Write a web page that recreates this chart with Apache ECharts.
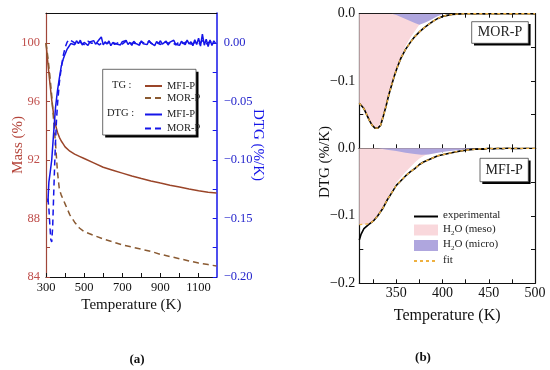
<!DOCTYPE html>
<html><head><meta charset="utf-8">
<script src="https://cdn.jsdelivr.net/npm/echarts@6/dist/echarts.min.js"></script>
<style>html,body{margin:0;padding:0;background:#fff}#c{width:550px;height:370px}</style>
</head><body><div id="c"></div>
<script>
const FONT = 'Liberation Serif';

// ---------- Panel (a): TG (mass %) ----------
const tgTemp = [300,310,320,330,340,350,360,370,380,390,400,425,450,475,500,550,600,650,700,750,800,850,900,950,1000,1050,1100,1150,1194];
const tgMFI  = [100,98.6,97.3,96.1,95.1,94.4,93.9,93.55,93.3,93.1,92.9,92.6,92.4,92.25,92.1,91.8,91.5,91.3,91.1,90.9,90.73,90.57,90.42,90.28,90.15,90.02,89.9,89.8,89.74];
const tgMOR  = [100,99.0,97.8,96.4,94.7,93.1,91.2,90.0,89.6,89.3,89.0,88.25,87.75,87.35,87.1,86.85,86.6,86.4,86.2,86.05,85.9,85.75,85.55,85.4,85.25,85.1,84.95,84.85,84.75];

// ---------- Panel (a): DTG (%/K) ----------
const dtgTempMFI = [310,315,320,330,340,350,360,370,380,390,400,410,420,430,
  440,450,460,470,480,490,500,510,520,530,540,550,560,570,580,590,600,610,620,630,640,650,660,670,680,690,
  700,710,720,730,740,750,760,770,780,790,800,810,820,830,840,850,860,870,880,890,900,910,920,930,940,950,
  960,970,980,990,1000,1010,1020,1030,1040,1050,1060,1070,1080,1090,1100,1110,1120,1130,1140,1150,1160,1170,1180,1190];
const dtgMFI = [-0.136,-0.119,-0.113,-0.100,-0.077,-0.055,-0.041,-0.030,-0.020,-0.014,-0.0095,-0.0055,-0.003,-0.0005,
  0.0008,-0.0015,0.0019,-0.0006,0.0024,-0.0018,0.0005,0.0012,-0.0021,0.0009,-0.0004,0.0020,-0.0011,0.0003,0.0032,0.0052,-0.0016,0.0010,-0.0008,0.0017,-0.0023,0.0004,0.0014,-0.0009,0.0002,-0.0017,
  0.0011,-0.0005,0.0022,-0.0013,0.0006,-0.0020,0.0015,-0.0003,0.0009,-0.0019,0.0018,-0.0007,0.0004,-0.0014,0.0021,-0.0002,0.0008,-0.0022,0.0013,-0.0006,0.0019,-0.0010,0.0001,0.0016,-0.0017,0.0007,
  -0.0004,0.0023,-0.0012,0.0005,-0.0020,0.0014,0.0002,-0.0015,0.0025,-0.0008,0.0011,-0.0024,0.0028,-0.0013,0.0041,-0.0026,0.0075,-0.0019,0.0033,-0.0030,0.0026,-0.0022,0.0018,-0.0005];
const dtgTempMOR = [310,315,320,325,330,335,340,345,350,355,360,370,380,390,400,410,420,430,
  440,460,480,500,520,540,560,580,600,620,640,660,680,700,720,740,760,780,800,820,840,860,880,900,
  920,940,960,980,1000,1020,1040,1060,1080,1100,1120,1140,1160,1180];
const dtgMOR = [-0.133,-0.141,-0.155,-0.168,-0.170,-0.157,-0.131,-0.106,-0.084,-0.066,-0.053,-0.034,-0.021,-0.011,-0.004,0.0005,0.003,0.0015,
  0.0012,-0.0010,0.0006,-0.0014,0.0015,-0.0003,0.0009,-0.0016,0.0011,-0.0005,0.0013,-0.0012,0.0004,-0.0009,0.0016,-0.0007,0.0002,-0.0015,0.0010,-0.0004,0.0014,-0.0011,0.0005,-0.0013,
  0.0012,-0.0002,0.0008,-0.0016,0.0011,-0.0006,0.0015,-0.0010,0.0003,-0.0014,0.0020,-0.0008,0.0012,-0.0009];

// ---------- Panel (b) top: MOR-P ----------
const morT   = [310,312,315,318,321,324,327,330,333,336,339,342,345,348,351,355,360,365,370,375,380,385,390,395,400,405,410,415,420,425,430,435,440,445,450,455,460,465,470,475,480,485,490,495,500];
const morExp = [-0.133,-0.135,-0.141,-0.150,-0.159,-0.166,-0.170,-0.170,-0.166,-0.152,-0.137,-0.120,-0.106,-0.092,-0.080,-0.066,-0.053,-0.043,-0.034,-0.027,-0.021,-0.016,-0.011,-0.007,-0.004,-0.0025,-0.0012,-0.0006,-0.0002,0.0003,0.0,-0.0004,0.0002,-0.0003,0.0004,0.0,-0.0003,0.0002,0.0001,-0.0002,0.0003,-0.0001,0.0002,0.0,-0.0002];
const morFit = [-0.133,-0.135,-0.141,-0.150,-0.159,-0.166,-0.170,-0.170,-0.166,-0.152,-0.137,-0.120,-0.106,-0.092,-0.080,-0.066,-0.053,-0.043,-0.034,-0.027,-0.021,-0.016,-0.011,-0.007,-0.004,-0.0025,-0.0013,-0.0007,-0.0003,-0.0001,0,0,0,0,0,0,0,0,0,0,0,0,0,0,0];
const morMesoT = [310,315,320,325,330,335,340,345,350,355,360,365,370,375,380,385,390,395,400];
const morMeso  = [-0.133,-0.141,-0.156,-0.168,-0.170,-0.157,-0.131,-0.106,-0.083,-0.064,-0.048,-0.036,-0.026,-0.016,-0.010,-0.006,-0.003,-0.001,0];
const morMicroT = [345,350,355,360,365,370,375,380,385,390,395,400,403];
const morMicro  = [0,-0.002,-0.005,-0.008,-0.011,-0.014,-0.0165,-0.014,-0.011,-0.007,-0.0035,-0.001,0];

// ---------- Panel (b) bottom: MFI-P ----------
const mfiT   = [310,312,315,320,325,330,335,340,345,350,355,360,365,370,375,380,385,390,395,400,405,410,415,420,425,430,435,440,445,450,455,460,465,470,475,480,485,490,495,500];
const mfiExp = [-0.136,-0.127,-0.119,-0.113,-0.108,-0.100,-0.090,-0.077,-0.066,-0.055,-0.048,-0.041,-0.035,-0.030,-0.024,-0.020,-0.017,-0.014,-0.011,-0.0095,-0.008,-0.0065,-0.005,-0.0038,-0.003,-0.002,-0.0015,-0.001,-0.0012,0.0005,-0.0008,0.0003,-0.0005,0.0006,-0.0004,0.0002,-0.0003,0.0004,0.0001,0.0];
const mfiFit = [-0.113,-0.113,-0.1125,-0.112,-0.108,-0.100,-0.090,-0.077,-0.066,-0.055,-0.048,-0.041,-0.035,-0.030,-0.024,-0.020,-0.017,-0.014,-0.011,-0.0095,-0.008,-0.0065,-0.005,-0.0038,-0.003,-0.002,-0.0015,-0.001,-0.0006,-0.0003,-0.0001,0,0,0,0,0,0,0,0,0];
const mfiMesoT = [310,315,320,325,330,335,340,345,350,355,360,365,370,375,380,385,390,395,400,410,420,430,440];
const mfiMeso  = [-0.113,-0.1125,-0.112,-0.108,-0.100,-0.089,-0.075,-0.062,-0.051,-0.043,-0.035,-0.028,-0.021,-0.015,-0.011,-0.008,-0.006,-0.0045,-0.0035,-0.002,-0.001,-0.0003,0];
const mfiMicroT = [330,340,350,360,370,377,385,395,405,415,425,435,445];
const mfiMicro  = [0,-0.002,-0.004,-0.0065,-0.0085,-0.0095,-0.009,-0.0065,-0.0045,-0.003,-0.0015,-0.0005,0];

// ---------- tick labels ----------
const aXLabels = [300,500,700,900,1100];
const aXTicks = [300,400,500,600,700,800,900,1000,1100];
const aMassLabels = [84,88,92,96,100];
const aMassTicks = [84,86,88,90,92,94,96,98,100];
const aDtgLabels = [-0.2,-0.15,-0.1,-0.05,0];
const aDtgTicks = [-0.2,-0.175,-0.15,-0.125,-0.1,-0.075,-0.05,-0.025,0];
const bXLabels = [350,400,450,500];
const bXTicks = [325,350,375,400,425,450,475];
const bTopYLabels = [-0.1,0];
const bBotYLabels = [-0.2,-0.1,0];
const bYTicks = [-0.15,-0.1,-0.05];

const BROWN = '#9a4529', BROWN_D = '#8a5a32', BLUE = '#1515e8', MASSC = '#c0504d';
const PINK = '#f9d8dc', PURPLE = '#afa6de', FIT = '#eeb040', INK = '#111';

const pairs = (xs, ys) => xs.map((x, i) => [x, ys[i]]);
const signed = d => v => (v < -1e-9 ? '\u2212' : '') + Math.abs(v).toFixed(d);
const plain = v => String(v);
const lineItem = name => ({ name, itemStyle: { opacity: 0, color: 'rgba(0,0,0,0)', borderWidth: 0 } });

function xAx(grid, min, max, pos, opts) {
  return Object.assign({
    gridIndex: grid, type: 'value', min, max, position: pos,
    axisLine: { show: true, onZero: false, lineStyle: { color: INK, width: 1.2 } },
    axisTick: { show: false },
    axisLabel: { show: false },
    splitLine: { show: false }
  }, opts || {});
}
function yAx(grid, min, max, pos, opts) {
  return Object.assign({
    gridIndex: grid, type: 'value', min, max, position: pos,
    axisLine: { show: true, onZero: false, lineStyle: { color: INK, width: 1.2 } },
    axisTick: { show: false },
    axisLabel: { show: false },
    splitLine: { show: false }
  }, opts || {});
}
const tk = (vals, color) => ({ show: true, inside: true, length: 4, customValues: vals, lineStyle: { color: color || INK, width: 1 } });

const DTG_MAX = 0.02563;

const option = {
  animation: false,
  backgroundColor: '#fff',
  grid: [
    { left: 46, top: 13, width: 170.7, height: 264 },
    { left: 359.3, top: 13.7, width: 175.7, height: 134.6 },
    { left: 359.3, top: 148.3, width: 175.7, height: 135 }
  ],
  xAxis: [
    xAx(0, 300, 1195, 'bottom', {
      axisTick: tk(aXTicks),
      axisLabel: { show: true, customValues: aXLabels, formatter: plain, margin: 4, fontFamily: FONT, fontSize: 12.5, color: INK },
      name: 'Temperature (K)', nameLocation: 'middle', nameGap: 21, nameMoveOverlap: false,
      nameTextStyle: { fontFamily: FONT, fontSize: 15, color: INK }
    }),
    xAx(0, 300, 1195, 'top'),
    xAx(1, 310, 500, 'bottom', { axisTick: tk(bXTicks) }),
    xAx(1, 310, 500, 'top', { axisTick: tk(bXTicks) }),
    xAx(2, 310, 500, 'bottom', {
      axisTick: tk(bXTicks),
      axisLabel: { show: true, customValues: bXLabels, formatter: plain, margin: 3, fontFamily: FONT, fontSize: 14, color: INK },
      name: 'Temperature (K)', nameLocation: 'middle', nameGap: 24, nameMoveOverlap: false,
      nameTextStyle: { fontFamily: FONT, fontSize: 16, color: INK }
    }),
    xAx(2, 310, 500, 'top', { axisTick: tk(bXTicks) })
  ],
  yAxis: [
    yAx(0, 84, 102.05, 'left', {
      axisLine: { show: true, onZero: false, lineStyle: { color: '#a0463a', width: 1.2 } },
      axisTick: tk(aMassTicks, '#a0463a'),
      axisLabel: { show: true, customValues: aMassLabels, formatter: plain, margin: 6, fontFamily: FONT, fontSize: 12.5, color: MASSC },
      name: 'Mass (%)', nameLocation: 'middle', nameGap: 20.5, nameMoveOverlap: false,
      nameTextStyle: { fontFamily: FONT, fontSize: 15, color: '#b4443a' }
    }),
    yAx(0, -0.2, DTG_MAX, 'right', {
      axisLine: { show: true, onZero: false, lineStyle: { color: BLUE, width: 1.5 } },
      axisTick: tk(aDtgTicks, BLUE),
      axisLabel: { show: true, customValues: aDtgLabels, margin: 7, fontFamily: FONT, fontSize: 12.5, color: '#2525cc', formatter: signed(2) },
      name: 'DTG (%/K)', nameLocation: 'middle', nameGap: 34, nameRotate: -90, nameMoveOverlap: false,
      nameTextStyle: { fontFamily: FONT, fontSize: 15, color: BLUE }
    }),
    yAx(1, -0.2, 0, 'left', {
      axisTick: tk(bYTicks),
      axisLabel: { show: true, customValues: bTopYLabels, margin: 4, fontFamily: FONT, fontSize: 14, color: INK, formatter: signed(1) }
    }),
    yAx(1, -0.2, 0, 'right', { axisTick: tk(bYTicks) }),
    yAx(2, -0.2, 0, 'left', {
      axisTick: tk(bYTicks),
      axisLabel: { show: true, customValues: bBotYLabels, margin: 4, fontFamily: FONT, fontSize: 14, color: INK, formatter: signed(1) }
    }),
    yAx(2, -0.2, 0, 'right', { axisTick: tk(bYTicks) })
  ],
  legend: [
    {
      data: [lineItem('TG MFI-P'), lineItem('TG MOR-P')], left: 139, top: 75.5, orient: 'vertical',
      itemWidth: 17, itemHeight: 10, itemGap: 1, selectedMode: false, z: 20,
      formatter: n => n.split(' ')[1],
      textStyle: { fontFamily: FONT, fontSize: 10.5, color: '#222' }
    },
    {
      data: [lineItem('DTG MFI-P'), lineItem('DTG MOR-P')], left: 139, top: 104, orient: 'vertical',
      itemWidth: 17, itemHeight: 10, itemGap: 3, selectedMode: false, z: 20,
      formatter: n => n.split(' ')[1],
      textStyle: { fontFamily: FONT, fontSize: 10.5, color: '#222' }
    },
    {
      data: [lineItem('experimental'), { name: 'H2O (meso)', icon: 'rect' }, { name: 'H2O (micro)', icon: 'rect' }, lineItem('fit')],
      left: 408, top: 205, orient: 'vertical', itemWidth: 24, itemHeight: 11, itemGap: 2.5,
      selectedMode: false, z: 20,
      formatter: n => n.indexOf('H2O') === 0 ? '{a|H}{s|2}{a|O' + n.slice(3) + '}' : '{a|' + n + '}',
      textStyle: {
        fontFamily: FONT, fontSize: 11, color: '#222',
        rich: {
          a: { fontFamily: FONT, fontSize: 11, color: '#222', lineHeight: 13, verticalAlign: 'top' },
          s: { fontFamily: FONT, fontSize: 7, color: '#222', lineHeight: 7, verticalAlign: 'bottom' }
        }
      }
    }
  ],
  graphic: [
    { type: 'rect', z: 10, shape: { x: 105.2, y: 71.8, width: 93.3, height: 65.7 }, style: { fill: '#000' } },
    { type: 'rect', z: 11, shape: { x: 102.7, y: 69.3, width: 93.3, height: 65.7 }, style: { fill: '#fff', stroke: '#444', lineWidth: 0.8 } },
    { type: 'text', z: 21, x: 112, y: 85, style: { text: 'TG :', font: '10.5px "Liberation Serif"', fill: '#222', verticalAlign: 'middle' } },
    { type: 'text', z: 21, x: 107, y: 113.5, style: { text: 'DTG :', font: '10.5px "Liberation Serif"', fill: '#222', verticalAlign: 'middle' } },

    { type: 'rect', z: 10, shape: { x: 474, y: 24, width: 56.6, height: 21.6 }, style: { fill: '#000' } },
    { type: 'rect', z: 11, shape: { x: 471.7, y: 21.7, width: 56.6, height: 21.6 }, style: { fill: '#fff', stroke: '#444', lineWidth: 0.8 } },
    { type: 'text', z: 21, x: 500, y: 32.5, style: { text: 'MOR-P', font: '14px "Liberation Serif"', fill: '#222', align: 'center', verticalAlign: 'middle' } },

    { type: 'rect', z: 10, shape: { x: 482.3, y: 160.6, width: 48.3, height: 23.4 }, style: { fill: '#000' } },
    { type: 'rect', z: 11, shape: { x: 480, y: 158.3, width: 48.3, height: 23.4 }, style: { fill: '#fff', stroke: '#444', lineWidth: 0.8 } },
    { type: 'text', z: 21, x: 504.2, y: 170, style: { text: 'MFI-P', font: '14px "Liberation Serif"', fill: '#222', align: 'center', verticalAlign: 'middle' } },

    { type: 'text', z: 21, x: 325, y: 162, rotation: Math.PI / 2, style: { text: 'DTG (%/K)', font: '15px "Liberation Serif"', fill: INK, align: 'center', verticalAlign: 'middle' } },
    { type: 'text', z: 21, x: 137, y: 360, style: { text: '(a)', font: 'bold 13px "Liberation Serif"', fill: INK, align: 'center', verticalAlign: 'middle' } },
    { type: 'text', z: 21, x: 423, y: 358, style: { text: '(b)', font: 'bold 13px "Liberation Serif"', fill: INK, align: 'center', verticalAlign: 'middle' } }
  ],
  series: [
    { name: 'TG MFI-P', type: 'line', xAxisIndex: 0, yAxisIndex: 0, data: pairs(tgTemp, tgMFI), symbol: 'none', color: BROWN, lineStyle: { color: BROWN, width: 1.5 } },
    { name: 'TG MOR-P', type: 'line', xAxisIndex: 0, yAxisIndex: 0, data: pairs(tgTemp, tgMOR), symbol: 'none', color: BROWN_D, lineStyle: { color: BROWN_D, width: 1.5, type: [6, 4] } },
    { name: 'DTG MFI-P', type: 'line', xAxisIndex: 0, yAxisIndex: 1, data: pairs(dtgTempMFI, dtgMFI), symbol: 'none', color: BLUE, lineStyle: { color: BLUE, width: 1.5 } },
    { name: 'DTG MOR-P', type: 'line', xAxisIndex: 0, yAxisIndex: 1, data: pairs(dtgTempMOR, dtgMOR), symbol: 'none', color: BLUE, lineStyle: { color: BLUE, width: 1.5, type: [6, 4] } },

    { name: 'H2O (meso)', type: 'line', xAxisIndex: 2, yAxisIndex: 2, data: pairs(morMesoT, morMeso), symbol: 'none', color: PINK, itemStyle: { color: PINK }, lineStyle: { width: 0 }, areaStyle: { color: PINK, opacity: 1 }, z: 1 },
    { name: 'H2O (micro)', type: 'line', xAxisIndex: 2, yAxisIndex: 2, data: pairs(morMicroT, morMicro), symbol: 'none', color: PURPLE, itemStyle: { color: PURPLE }, lineStyle: { width: 0 }, areaStyle: { color: PURPLE, opacity: 1 }, z: 1 },
    { name: 'experimental', type: 'line', xAxisIndex: 2, yAxisIndex: 2, data: pairs(morT, morExp), symbol: 'none', color: '#000', lineStyle: { color: '#000', width: 1.6 }, z: 3 },
    { name: 'fit', type: 'line', xAxisIndex: 2, yAxisIndex: 2, data: pairs(morT, morFit), symbol: 'none', color: FIT, lineStyle: { color: FIT, width: 1.4, type: [3, 3] }, z: 4 },

    { name: 'H2O (meso)', type: 'line', xAxisIndex: 4, yAxisIndex: 4, data: pairs(mfiMesoT, mfiMeso), symbol: 'none', color: PINK, itemStyle: { color: PINK }, lineStyle: { width: 0 }, areaStyle: { color: PINK, opacity: 1 }, z: 1 },
    { name: 'H2O (micro)', type: 'line', xAxisIndex: 4, yAxisIndex: 4, data: pairs(mfiMicroT, mfiMicro), symbol: 'none', color: PURPLE, itemStyle: { color: PURPLE }, lineStyle: { width: 0 }, areaStyle: { color: PURPLE, opacity: 1 }, z: 1 },
    { name: 'experimental', type: 'line', xAxisIndex: 4, yAxisIndex: 4, data: pairs(mfiT, mfiExp), symbol: 'none', color: '#000', lineStyle: { color: '#000', width: 1.6 }, z: 3 },
    { name: 'fit', type: 'line', xAxisIndex: 4, yAxisIndex: 4, data: pairs(mfiT, mfiFit), symbol: 'none', color: FIT, lineStyle: { color: FIT, width: 1.4, type: [3, 3] }, z: 4 }
  ]
};

const chart = echarts.init(document.getElementById('c'), null, { renderer: 'canvas' });
chart.setOption(option);
</script>
</body></html>
